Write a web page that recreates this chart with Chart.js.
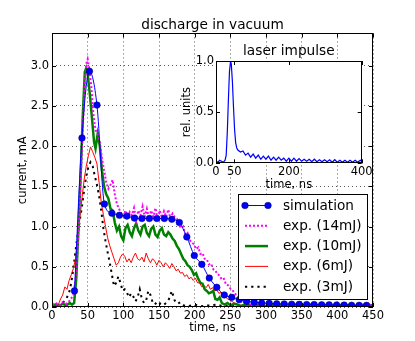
<!DOCTYPE html>
<html>
<head>
<meta charset="utf-8">
<script src="https://cdn.jsdelivr.net/npm/chart.js@4.4.1/dist/chart.umd.min.js"></script>
<style>
  html, body { margin: 0; padding: 0; background: #fff; }
  #wrap { position: relative; width: 415px; height: 341px; }
  #wrap canvas { position: absolute; left: 0; top: 0; }
</style>
</head>
<body>
<div id="wrap">
  <canvas id="mainChart" width="415" height="341"></canvas>
  <canvas id="insetChart" width="415" height="341"></canvas>
</div>
<script>
// tick labels
const mainXTicks = [0, 50, 100, 150, 200, 250, 300, 350, 400, 450];
const mainYTicks = [0, 0.5, 1.0, 1.5, 2.0, 2.5, 3.0];
const insetXTicks = [0, 50, 200, 400];
const insetYTicks = [0, 0.5, 1.0];

// simulation (ns, mA)
const simTime = [31.5, 42, 52.5, 63, 73.5, 84, 94.5, 105, 115.5, 126, 136.5, 147, 157.5, 168, 178.5, 189, 199.5, 210, 220.5, 231,
  241.5, 252, 262.5, 273, 283.5, 294, 304.5, 315, 325.5, 336, 346.5, 357, 367.5, 378, 388.5, 399, 409.5, 420, 430.5, 441];
const simCurrent = [0.2, 2.1, 2.93, 2.51, 1.28, 1.165, 1.14, 1.13, 1.105, 1.1, 1.1, 1.1, 1.1, 1.09, 1.05, 0.87, 0.64, 0.53, 0.36, 0.245,
  0.15, 0.12, 0.09, 0.07, 0.06, 0.05, 0.045, 0.04, 0.038, 0.035, 0.033, 0.03, 0.03, 0.028, 0.027, 0.025, 0.024, 0.022, 0.021, 0.02];

// exp. 14mJ
const exp14Time = [0, 5, 10, 15, 20, 25, 30, 33, 36, 39, 42, 45, 48, 50, 52, 55, 58, 61, 64, 67, 70, 73, 76, 79, 82, 85, 88, 91, 94, 97,
  100, 103, 106, 109, 112, 115, 118, 121, 124, 127, 130, 133, 136, 139, 142, 145, 148, 151, 154, 157, 160, 163, 166, 169, 172, 175, 178,
  181, 184, 187, 190, 193, 196, 199, 202, 205, 208, 211, 214, 217, 220, 223, 226, 229, 232, 235, 238, 241, 244, 247, 250, 253, 256, 259,
  262, 265, 270, 275, 280, 290, 300, 310, 320, 330, 340, 350, 360, 370, 380, 390, 400, 410, 420, 430, 440, 450];
const exp14Current = [0.03, 0.05, 0.02, 0.06, 0.04, 0.08, 0.15, 0.35, 0.75, 1.3, 1.95, 2.6, 3.02, 3.08, 2.98, 2.75, 2.4, 2.2, 2.15, 2.05,
  1.85, 1.7, 1.55, 1.47, 1.52, 1.58, 1.4, 1.28, 1.22, 1.16,
  1.13, 1.2, 1.1, 1.18, 1.14, 1.23, 1.08, 1.2, 1.14, 1.25, 1.12, 1.22, 1.1, 1.2, 1.12, 1.23, 1.09, 1.2, 1.11, 1.19, 1.12, 1.21, 1.1, 1.16, 1.12, 1.1, 1.02,
  0.98, 1.0, 0.9, 0.92, 0.83, 0.8, 0.78, 0.72, 0.74, 0.66, 0.67, 0.6, 0.59, 0.53, 0.54, 0.47, 0.45, 0.41, 0.39, 0.34, 0.35, 0.28, 0.27, 0.23, 0.21, 0.17, 0.14,
  0.11, 0.08, 0.05, 0.06, 0.03, 0.04, 0.02, 0.03, 0.04, 0.02, 0.03, 0.02, 0.04, 0.02, 0.03, 0.02, 0.03, 0.02, 0.03, 0.02, 0.03, 0.02];

// exp. 10mJ
const exp10Time = [0, 5, 10, 15, 20, 25, 28, 31, 34, 37, 40, 43, 46, 48, 50, 53, 56, 59, 61, 64, 67, 70, 73, 76, 79, 82, 85, 88, 91, 94, 97,
  100, 103, 106, 109, 112, 115, 118, 121, 124, 127, 130, 133, 136, 139, 142, 145, 148, 151, 154, 157, 160, 163, 166, 169, 172, 175, 178,
  181, 184, 187, 190, 193, 196, 199, 202, 205, 208, 211, 214, 217, 220, 223, 226, 229, 232, 235, 238, 242, 246, 250, 255, 260, 265, 270,
  280, 290, 300, 310, 320, 330, 340, 350, 360, 370, 380, 390, 400, 410, 420, 430, 440, 450];
const exp10Current = [0.02, 0.03, 0.01, 0.04, 0.02, 0.05, 0.03, 0.05, 0.35, 0.95, 1.6, 2.35, 2.92, 2.97, 2.9, 2.65, 2.35, 2.05, 1.97, 2.15, 2.0, 1.7, 1.5, 1.4, 1.35, 1.22, 1.2, 1.05, 0.95, 1.0, 0.88,
  0.83, 0.98, 1.02, 0.93, 0.88, 0.98, 1.04, 0.95, 0.9, 1.0, 1.02, 0.92, 0.88, 0.97, 1.0, 0.9, 0.87, 0.95, 0.98, 0.9, 0.88, 0.93, 0.9, 0.85, 0.82, 0.76, 0.72,
  0.66, 0.6, 0.57, 0.52, 0.5, 0.46, 0.4, 0.42, 0.35, 0.3, 0.29, 0.22, 0.2, 0.17, 0.18, 0.2, 0.1, 0.09, 0.12, 0.05, 0.03, 0.05, 0.02, 0.04, 0.03, 0.01, 0.03,
  0.02, 0.03, 0.01, 0.03, 0.02, 0.01, 0.03, 0.02, 0.01, 0.02, 0.03, 0.01, 0.02, 0.03, 0.01, 0.02, 0.03, 0.02];

// exp. 6mJ
const exp6Time = [0, 3, 6, 9, 12, 15, 18, 21, 24, 27, 30, 33, 36, 39, 42, 45, 48, 51, 54, 57, 60, 63, 66, 69, 72, 75, 78, 81, 84, 87, 90,
  93, 96, 99, 102, 105, 108, 111, 114, 117, 120, 123, 126, 129, 132, 135, 138, 141, 144, 147, 150, 153, 156, 159, 162, 165, 168, 171, 174,
  177, 180, 183, 186, 189, 192, 195, 198, 201, 204, 207, 210, 213, 216, 219, 222, 225, 228, 231, 234, 237, 240, 243, 246, 249, 252, 256,
  260, 265, 270, 280, 290, 300, 310, 320, 330, 340, 350, 360, 370, 380, 390, 400, 410, 420, 430, 440, 450];
const exp6Current = [0.04, 0.01, 0.05, 0.03, 0.1, 0.15, 0.25, 0.22, 0.33, 0.4, 0.48, 0.6, 0.85, 1.1, 1.35, 1.58, 1.75, 1.88, 1.99, 1.93, 1.86, 1.78, 1.55, 1.3, 1.15, 1.0, 0.86, 0.76, 0.68, 0.6, 0.52,
  0.55, 0.62, 0.66, 0.63, 0.56, 0.6, 0.55, 0.62, 0.67, 0.6, 0.58, 0.62, 0.56, 0.67, 0.6, 0.55, 0.6, 0.57, 0.52, 0.58, 0.55, 0.5, 0.55, 0.52, 0.48, 0.54, 0.5, 0.45,
  0.47, 0.42, 0.43, 0.38, 0.4, 0.35, 0.37, 0.33, 0.36, 0.3, 0.3, 0.25, 0.27, 0.24, 0.28, 0.22, 0.24, 0.2, 0.21, 0.17, 0.18, 0.14, 0.13, 0.1, 0.09, 0.07, 0.05,
  0.04, 0.02, 0.03, 0.01, 0.03, 0.02, 0.01, 0.03, 0.02, 0.01, 0.02, 0.03, 0.01, 0.02, 0.03, 0.01, 0.02, 0.03, 0.01, 0.02, 0.02];

// exp. 3mJ
const exp3Time = [0, 5, 10, 15, 20, 24, 27, 30, 33, 36, 39, 42, 45, 48, 51, 54, 57, 60, 63, 66, 69, 72, 75, 78, 81, 84, 87, 90, 93, 96, 99,
  102, 105, 108, 111, 114, 117, 120, 123, 126, 129, 132, 135, 138, 141, 144, 148, 152, 156, 160, 164, 168, 172, 176, 180, 185, 190,
  200, 210, 220, 230, 240, 250, 260, 270, 280, 290, 300, 320, 340, 360, 380, 400, 420, 440, 450];
const exp3Current = [0.02, 0.0, 0.03, 0.05, 0.1, 0.18, 0.3, 0.48, 0.7, 0.9, 1.08, 1.25, 1.45, 1.63, 1.74, 1.8, 1.75, 1.63, 1.52, 1.38, 1.2, 0.98, 0.82, 0.68, 0.55, 0.4, 0.26, 0.3, 0.38, 0.3, 0.2,
  0.22, 0.18, 0.12, 0.17, 0.13, 0.07, 0.12, 0.22, 0.1, 0.05, 0.08, 0.2, 0.15, 0.06, 0.03, 0.07, 0.04, 0.02, 0.05, 0.1, 0.2, 0.08, 0.04, 0.06, 0.02, 0.01,
  0.03, 0.01, 0.02, 0.03, 0.01, 0.02, 0.01, 0.02, 0.01, 0.02, 0.01, 0.02, 0.01, 0.02, 0.01, 0.02, 0.01, 0.02, 0.01];

// laser impulse (inset)
const laserTime = [0, 5, 10, 15, 20, 25, 28, 31, 34, 37, 40, 42, 45, 48, 51, 54, 57,
  60, 67, 74, 81, 88, 95, 102, 109, 116, 123, 130, 137, 144, 151, 158, 165, 172, 179, 186, 193, 200, 207, 214, 221, 228, 235, 242, 249,
  256, 263, 270, 277, 284, 291, 298, 305, 312, 319, 326, 333, 340, 347, 354, 361, 368, 375, 382, 389, 396, 400];
const laserValue = [0.02, 0.01, 0.03, 0.02, 0.01, 0.03, 0.08, 0.3, 0.62, 0.9, 1.0, 0.97, 0.8, 0.55, 0.33, 0.2, 0.15,
  0.13, 0.11, 0.12, 0.08, 0.1, 0.06, 0.09, 0.05, 0.08, 0.04, 0.07, 0.04, 0.07, 0.03, 0.06, 0.03, 0.06, 0.03, 0.05, 0.02, 0.05, 0.02, 0.05, 0.02, 0.045, 0.02,
  0.04, 0.02, 0.04, 0.015, 0.04, 0.015, 0.035, 0.015, 0.035, 0.015, 0.035, 0.01, 0.035, 0.01, 0.03, 0.01, 0.03, 0.01, 0.03, 0.01, 0.03, 0.01, 0.03, 0.02];

const FONT = 'DejaVu Sans';
Chart.defaults.font.family = FONT;
Chart.defaults.color = '#000';

const pts = (xs, ys) => xs.map((t, i) => ({ x: t, y: ys[i] }));

// white background, frame and inward ticks like matplotlib
const frameTicks = {
  id: 'frameTicks',
  beforeDraw(chart, args, opts) {
    const { ctx, chartArea: a } = chart;
    ctx.save();
    ctx.fillStyle = '#fff';
    if (opts.full) ctx.fillRect(0, 0, chart.width, chart.height);
    else ctx.fillRect(a.left, a.top, a.width, a.height);
    ctx.restore();
  },
  afterDatasetsDraw(chart) {
    const { ctx, chartArea: a, scales: { x, y } } = chart;
    ctx.save();
    ctx.strokeStyle = '#000';
    ctx.lineWidth = 1;
    ctx.setLineDash([]);
    ctx.beginPath();
    x.ticks.forEach(t => {
      const px = Math.round(x.getPixelForValue(t.value)) + 0.5;
      ctx.moveTo(px, a.bottom); ctx.lineTo(px, a.bottom - 4);
      ctx.moveTo(px, a.top); ctx.lineTo(px, a.top + 4);
    });
    y.ticks.forEach(t => {
      const py = Math.round(y.getPixelForValue(t.value)) + 0.5;
      ctx.moveTo(a.left, py); ctx.lineTo(a.left + 4, py);
      ctx.moveTo(a.right, py); ctx.lineTo(a.right - 4, py);
    });
    ctx.stroke();
    ctx.strokeRect(Math.round(a.left) + 0.5, Math.round(a.top) + 0.5, Math.round(a.width) - 1, Math.round(a.height) - 1);
    ctx.restore();
  }
};

// matplotlib style legend box in the lower right
const boxLegend = {
  id: 'boxLegend',
  afterDraw(chart) {
    const ctx = chart.ctx;
    const L = 238, T = 194, W = 129, H = 105;
    ctx.save();
    ctx.fillStyle = '#fff';
    ctx.fillRect(L, T, W, H);
    ctx.strokeStyle = '#000';
    ctx.lineWidth = 1;
    ctx.strokeRect(L + 0.5, T + 0.5, W, H);
    chart.data.datasets.forEach((ds, i) => {
      const cy = 205.5 + i * 20.3;
      ctx.setLineDash(ds.borderDash || []);
      ctx.strokeStyle = ds.borderColor;
      ctx.lineWidth = ds.borderWidth;
      ctx.beginPath();
      ctx.moveTo(245, cy);
      ctx.lineTo(268, cy);
      ctx.stroke();
      ctx.setLineDash([]);
      if (ds.pointRadius > 0) {
        [245, 268].forEach(px => {
          ctx.beginPath();
          ctx.arc(px, cy, ds.pointRadius, 0, Math.PI * 2);
          ctx.fillStyle = ds.pointBackgroundColor;
          ctx.fill();
          ctx.lineWidth = ds.pointBorderWidth;
          ctx.strokeStyle = ds.pointBorderColor;
          ctx.stroke();
        });
      }
      ctx.fillStyle = '#000';
      ctx.font = '13.6px "' + FONT + '"';
      ctx.textBaseline = 'middle';
      ctx.textAlign = 'left';
      ctx.fillText(ds.label, 283, cy + 0.5);
    });
    ctx.restore();
  }
};

const tickFont = { family: FONT, size: 11.5 };
const titleFont = { family: FONT, size: 13.7, weight: 'normal' };

new Chart(document.getElementById('mainChart'), {
  type: 'line',
  data: {
    datasets: [
      { label: 'simulation', data: pts(simTime, simCurrent), borderColor: '#0000ff', borderWidth: 1,
        pointRadius: 3.3, pointBackgroundColor: '#0000ff', pointBorderColor: '#000066', pointBorderWidth: 0.5,
        cubicInterpolationMode: 'monotone' },
      { label: 'exp. (14mJ)', data: pts(exp14Time, exp14Current), borderColor: '#ff00ff', borderWidth: 2,
        borderDash: [2, 2], pointRadius: 0 },
      { label: 'exp. (10mJ)', data: pts(exp10Time, exp10Current), borderColor: '#008000', borderWidth: 2.5, pointRadius: 0 },
      { label: 'exp. (6mJ)', data: pts(exp6Time, exp6Current), borderColor: '#ff0000', borderWidth: 1, pointRadius: 0 },
      { label: 'exp. (3mJ)', data: pts(exp3Time, exp3Current), borderColor: '#000000', borderWidth: 2,
        borderDash: [2.2, 4], pointRadius: 0 }
    ]
  },
  options: {
    responsive: false,
    animation: false,
    devicePixelRatio: 1,
    events: [],
    layout: { padding: { left: 0, right: 42, top: 0, bottom: 0 } },
    plugins: {
      legend: { display: false },
      tooltip: { enabled: false },
      title: { display: true, text: 'discharge in vacuum', fullSize: false, font: titleFont, color: '#000',
        padding: { top: 17, bottom: 0 } },
      frameTicks: { full: true }
    },
    scales: {
      x: {
        type: 'linear', min: 0, max: 450,
        afterBuildTicks: s => { s.ticks = mainXTicks.map(v => ({ value: v })); },
        afterFit: s => { s.height = 34; },
        grid: { color: 'rgba(0,0,0,0.65)', lineWidth: 1, drawTicks: false },
        border: { display: false, dash: [1, 3] },
        ticks: { font: tickFont, color: '#000', padding: 2, autoSkip: false, maxRotation: 0, callback: v => String(v) },
        title: { display: true, text: 'time, ns', font: tickFont, color: '#000', padding: { top: 0, bottom: 6 } }
      },
      y: {
        type: 'linear', min: 0, max: 3.4,
        afterBuildTicks: s => { s.ticks = mainYTicks.map(v => ({ value: v })); },
        afterFit: s => { s.width = 52; },
        grid: { color: 'rgba(0,0,0,0.65)', lineWidth: 1, drawTicks: false },
        border: { display: false, dash: [1, 3] },
        ticks: { font: tickFont, color: '#000', padding: 3, callback: v => Number(v).toFixed(1) },
        title: { display: true, text: 'current, mA', font: tickFont, color: '#000', padding: { top: 16, bottom: 0 } }
      }
    }
  },
  plugins: [frameTicks, boxLegend]
});

new Chart(document.getElementById('insetChart'), {
  type: 'line',
  data: {
    datasets: [
      { label: 'laser', data: pts(laserTime, laserValue), borderColor: '#0000ff', borderWidth: 1.2, pointRadius: 0 }
    ]
  },
  options: {
    responsive: false,
    animation: false,
    devicePixelRatio: 1,
    events: [],
    layout: { padding: { left: 176, right: 53.3, top: 43.3, bottom: 147.7 } },
    plugins: {
      legend: { display: false },
      tooltip: { enabled: false },
      title: { display: true, text: 'laser impulse', fullSize: false, font: titleFont, color: '#000',
        padding: { top: 0, bottom: 1.3 } },
      frameTicks: { full: false }
    },
    scales: {
      x: {
        type: 'linear', min: 0, max: 400,
        afterBuildTicks: s => { s.ticks = insetXTicks.map(v => ({ value: v })); },
        afterFit: s => { s.height = 30; },
        grid: { display: false, drawTicks: false },
        border: { display: false },
        ticks: { font: tickFont, color: '#000', padding: 2, autoSkip: false, maxRotation: 0, callback: v => String(v) },
        title: { display: true, text: 'time, ns', font: tickFont, color: '#000', padding: { top: 0, bottom: 1.4 } }
      },
      y: {
        type: 'linear', min: 0, max: 1,
        afterBuildTicks: s => { s.ticks = insetYTicks.map(v => ({ value: v })); },
        afterFit: s => { s.width = 40; },
        grid: { display: false, drawTicks: false },
        border: { display: false },
        ticks: { font: tickFont, color: '#000', padding: 2, callback: v => Number(v).toFixed(1) },
        title: { display: true, text: 'rel. units', font: tickFont, color: '#000', padding: { top: 4.6, bottom: 0 } }
      }
    }
  },
  plugins: [frameTicks]
});
</script>
</body>
</html>
